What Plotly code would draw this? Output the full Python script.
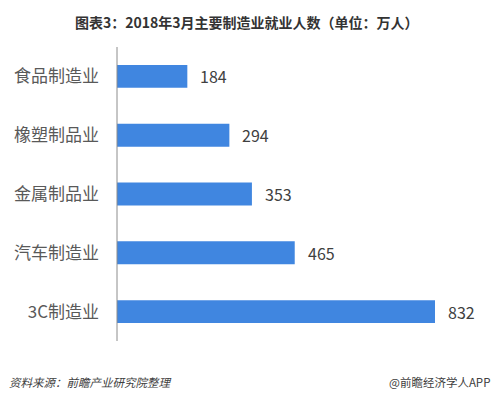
import plotly.graph_objects as go

categories = ["食品制造业", "橡塑制品业", "金属制品业", "汽车制造业", "3C制造业"]
values = [184, 294, 353, 465, 832]
value_labels = ["184", "294", "353", "465", "832"]

title_text = "图表3：2018年3月主要制造业就业人数（单位：万人）"
source_text = "资料来源：前瞻产业研究院整理"
brand_text = "@前瞻经济学人APP"

W, H = 500, 399
left, right = 117, 13
top, bottom = 47, 399 - 341
plot_w = W - left - right
plot_h = H - top - bottom
px_per_unit = 318 / 832
x_max = plot_w / px_per_unit

FONT = "Microsoft YaHei, Noto Sans CJK SC, sans-serif"


def px_x(x):
    return (x - left) / plot_w


def px_y(y):
    return (H - bottom - y) / plot_h


fig = go.Figure()
fig.add_trace(go.Bar(
    x=values,
    y=categories,
    orientation="h",
    width=0.39,
    marker=dict(color="#4086E0", line=dict(width=0)),
    hoverinfo="skip",
))

annotations = []
for cat, v, lab in zip(categories, values, value_labels):
    annotations.append(dict(
        x=v, y=cat, xref="x", yref="y", text=lab, showarrow=False,
        xanchor="left", yanchor="middle", xshift=11,
        font=dict(size=16, color="#404040", family=FONT),
    ))

annotations += [
    dict(text="<b>" + title_text + "</b>", x=px_x(247), xref="paper", xanchor="center",
         y=px_y(22), yref="paper", yanchor="middle", showarrow=False,
         font=dict(size=14, color="#333333", family=FONT)),
    dict(text="<i>" + source_text + "</i>", x=px_x(7), xref="paper", xanchor="left",
         y=px_y(382), yref="paper", yanchor="middle",
         showarrow=False, font=dict(size=11.5, color="#404040", family=FONT)),
    dict(text=brand_text, x=px_x(492), xref="paper", xanchor="right",
         y=px_y(382), yref="paper", yanchor="middle",
         showarrow=False, font=dict(size=11.5, color="#404040", family=FONT)),
]

fig.update_layout(
    width=W,
    height=H,
    margin=dict(l=left, r=right, t=top, b=bottom, pad=0),
    paper_bgcolor="white",
    plot_bgcolor="white",
    showlegend=False,
    font=dict(family=FONT),
    xaxis=dict(range=[0, x_max], visible=False, fixedrange=True, automargin=False),
    yaxis=dict(
        categoryorder="array",
        categoryarray=categories[::-1],
        range=[-0.5, 4.5],
        showgrid=False,
        zeroline=False,
        showline=False,
        ticks="",
        ticklabelstandoff=17,
        automargin=False,
        tickfont=dict(size=17, color="#595959", family=FONT),
        fixedrange=True,
    ),
    annotations=annotations,
    shapes=[
        dict(type="line", xref="paper", yref="paper", x0=0, x1=0, y0=0, y1=1,
             line=dict(color="#8c8c8c", width=1)),
    ],
)

fig.write_html("out.html", config={"displayModeBar": False},
               post_script="document.body.style.margin='0px';")
